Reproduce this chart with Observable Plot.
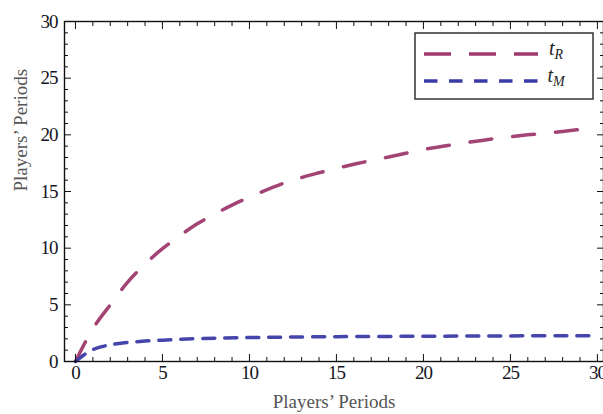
<!DOCTYPE html>
<html><head><meta charset="utf-8">
<script src="https://cdn.jsdelivr.net/npm/d3@7"></script>
<script src="https://cdn.jsdelivr.net/npm/@observablehq/plot@0.6"></script>
<style>
body{margin:0;background:#fff}
#chart{position:relative;width:603px;height:414px}
[aria-label$="tick label"] text{letter-spacing:-1px}
</style>
</head><body><div id="chart"></div>
<script>
// data
const tR_x = [0, 1, 2, 3, 4, 5, 6, 7, 8, 9, 10, 12, 14, 16, 18, 20, 22, 24, 26, 28, 30];
const tR_y = [0, 2.9, 5.0, 7.0, 8.6, 9.95, 11.1, 12.15, 13.0, 13.8, 14.5, 15.75, 16.65, 17.4, 18.05, 18.7, 19.2, 19.65, 20.0, 20.3, 20.65];
const tM_x = [0, 0.5, 1, 1.5, 2, 3, 4, 5, 6, 7, 8, 10, 12, 15, 20, 25, 30];
const tM_y = [0, 0.6, 1.05, 1.3, 1.47, 1.68, 1.8, 1.88, 1.95, 2.02, 2.06, 2.11, 2.15, 2.19, 2.23, 2.26, 2.28];
const seriesSub = ["R", "M"];
const seriesColor = ["#9e3a6e", "#3b3ba8"];
const majorTicks = [0, 5, 10, 15, 20, 25, 30];
const minorTicks = [1,2,3,4,6,7,8,9,11,12,13,14,16,17,18,19,21,22,23,24,26,27,28,29];
const xLabel = "Players’ Periods";
const yLabel = "Players’ Periods";

const tR = tR_x.map((x, i) => ({x, y: tR_y[i]}));
const tM = tM_x.map((x, i) => ({x, y: tM_y[i]}));
const font = "'Liberation Serif', 'Times New Roman', serif";
const blank = () => "";

const tickAxes = (ticks, size) => [
  Plot.axisX(ticks, {anchor: "bottom", tickSize: size, dy: -size, tickFormat: blank, label: null, stroke: "#111"}),
  Plot.axisX(ticks, {anchor: "top", tickSize: size, dy: size, tickFormat: blank, label: null, stroke: "#111"}),
  Plot.axisY(ticks, {anchor: "left", tickSize: size, dx: size, tickFormat: blank, label: null, stroke: "#111"}),
  Plot.axisY(ticks, {anchor: "right", tickSize: size, dx: -size, tickFormat: blank, label: null, stroke: "#111"})
];

const plot = Plot.plot({
  width: 603, height: 414,
  marginLeft: 64, marginRight: 0, marginTop: 21, marginBottom: 53,
  style: {fontFamily: font, background: "white"},
  x: {domain: [-0.63, 30.35], axis: null},
  y: {domain: [0, 30], axis: null},
  marks: [
    Plot.line(tR, {x: "x", y: "y", stroke: seriesColor[0], strokeWidth: 3.5, strokeDasharray: "22,21", curve: "catmull-rom", strokeOpacity: 0.95}),
    Plot.line(tM, {x: "x", y: "y", stroke: seriesColor[1], strokeWidth: 3.5, strokeDasharray: "12,10", curve: "catmull-rom", strokeOpacity: 0.95}),
    ...tickAxes(majorTicks, 7),
    ...tickAxes(minorTicks, 4),
    Plot.frame({stroke: "#111", strokeWidth: 1.4}),
    Plot.axisX(majorTicks, {anchor: "bottom", tickSize: 0, tickPadding: 4, fontSize: 19, label: null, fill: "#141424"}),
    Plot.axisY(majorTicks, {anchor: "left", tickSize: 0, tickPadding: 7, fontSize: 19, label: null, fill: "#141424"}),
    Plot.text([xLabel], {frameAnchor: "bottom", text: d => d, dy: 40, fontSize: 19, fill: "#555", lineAnchor: "middle"}),
    Plot.text([yLabel], {frameAnchor: "left", text: d => d, dx: -44, rotate: -90, fontSize: 19, fill: "#555", lineAnchor: "middle"})
  ]
});

document.getElementById("chart").append(plot);

// legend
const svg = d3.select(plot);
const lg = svg.append("g").attr("font-family", font);
lg.append("rect").attr("x", 415).attr("y", 33).attr("width", 178).attr("height", 66)
  .attr("fill", "white").attr("stroke", "#333").attr("stroke-width", 1.5);
const dashes = ["27,18", "13.5,11.5"];
seriesSub.forEach((s, i) => {
  const y = 54 + i * 27;
  lg.append("line").attr("x1", 424).attr("x2", 538).attr("y1", y).attr("y2", y)
    .attr("stroke", seriesColor[i]).attr("stroke-width", 3.5).attr("stroke-dasharray", dashes[i]);
  const t = lg.append("text").attr("x", 556).attr("y", y + 1).attr("font-size", 20)
    .attr("font-style", "italic").attr("fill", "#222");
  t.append("tspan").text("t");
  t.append("tspan").attr("dy", 4).attr("font-size", 14).text(s);
});
</script>
</body></html>
